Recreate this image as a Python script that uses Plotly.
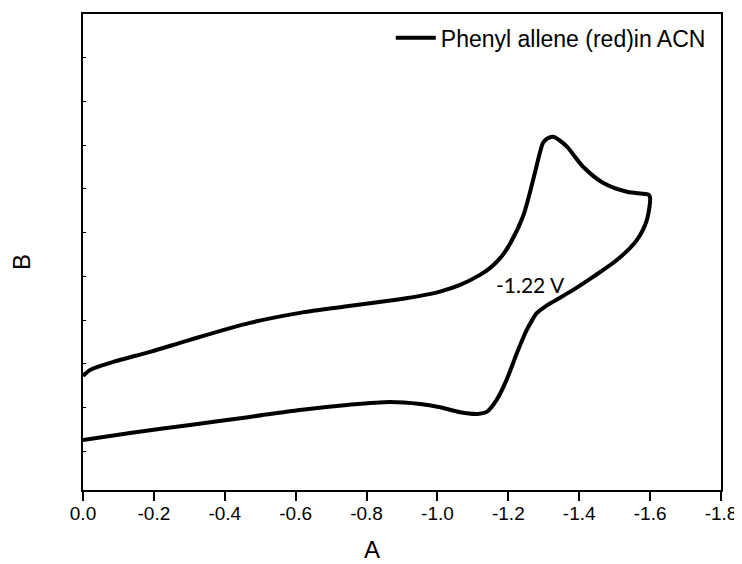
import plotly.graph_objects as go

# Cyclic voltammogram (potential in V, current in arbitrary units)
potential = [0.000, -0.133, -0.302, -0.471, -0.612, -0.745, -0.866, -0.951, -1.007, -1.064,
             -1.112, -1.140, -1.167, -1.195, -1.224, -1.252, -1.266, -1.280, -1.304, -1.327,
             -1.383, -1.439,
             -1.507, -1.563, -1.591, -1.600,
             -1.596, -1.591, -1.535, -1.467, -1.411, -1.366, -1.346, -1.326, -1.309, -1.298,
             -1.289, -1.270, -1.241, -1.200, -1.177, -1.148, -1.120, -1.064, -1.007, -0.951,
             -0.894, -0.745, -0.612, -0.471, -0.302, -0.189, -0.085, -0.020, 0.000]
current = [0.259, 0.419, 0.602, 0.785, 0.945, 1.059, 1.128, 1.082, 1.007, 0.892,
           0.854, 0.906, 1.174, 1.632, 2.243, 2.776, 2.982, 3.158, 3.310, 3.423,
           3.691, 3.989,
           4.378, 4.835, 5.293, 5.796,
           5.865, 5.880, 5.934, 6.140, 6.506, 6.963, 7.101, 7.192, 7.146, 7.055,
           6.826, 6.208, 5.362, 4.680, 4.416, 4.188, 4.034, 3.805, 3.652, 3.554,
           3.478, 3.314, 3.165, 2.936, 2.549, 2.272, 2.043, 1.860, 1.723]

series_name = "Phenyl allene (red)in ACN"
x_tick_values = [0.0, -0.2, -0.4, -0.6, -0.8, -1.0, -1.2, -1.4, -1.6, -1.8]
x_tick_labels = ["0.0", "-0.2", "-0.4", "-0.6", "-0.8", "-1.0", "-1.2", "-1.4", "-1.6", "-1.8"]
annotation_text = "-1.22 V"
annotation_pos = (-1.262, 3.81)
x_title = "A"
y_title = "B"

fig = go.Figure()
fig.add_trace(go.Scatter(
    x=potential, y=current, mode="lines", name=series_name,
    line=dict(color="black", width=4, shape="spline", smoothing=0.8),
    showlegend=True,
))

fig.add_annotation(
    x=annotation_pos[0], y=annotation_pos[1], text=annotation_text,
    showarrow=False, font=dict(family="Lato", size=21, color="black"),
)
fig.add_annotation(
    xref="paper", yref="paper", x=0.453, y=-0.126, text=x_title,
    showarrow=False, xanchor="center", yanchor="middle",
    font=dict(family="Liberation Sans", size=24, color="black"),
)
fig.add_annotation(
    xref="paper", yref="paper", x=-0.0956, y=0.479, text=y_title, textangle=-90,
    showarrow=False, xanchor="center", yanchor="middle",
    font=dict(family="Liberation Sans", size=24, color="black"),
)

# The page body adds an 8px offset, so the figure is 8px smaller on each side
fig.update_layout(
    width=734, height=556,
    margin=dict(l=75, r=21, t=6, b=74, autoexpand=False),
    paper_bgcolor="white", plot_bgcolor="white",
    font=dict(family="Liberation Sans", color="black"),
    showlegend=True,
    legend=dict(
        x=0.984, y=0.995, xanchor="right", yanchor="top",
        bgcolor="rgba(0,0,0,0)", font=dict(size=23, family="Liberation Sans"),
        itemwidth=40,
    ),
    xaxis=dict(
        range=[0, -1.8], tickvals=x_tick_values, ticktext=x_tick_labels,
        ticks="outside", ticklen=9, tickwidth=2, tickcolor="black",
        showline=True, linecolor="black", linewidth=2, mirror=True,
        showgrid=False, zeroline=False, automargin=False,
        ticklabelstandoff=-4,
        tickfont=dict(size=19, family="Liberation Sans"),
    ),
    yaxis=dict(
        range=[-0.886, 10.0], tick0=0, dtick=1,
        ticks="inside", ticklen=3, tickwidth=1, tickcolor="black",
        showticklabels=False,
        showline=True, linecolor="black", linewidth=2, mirror=True,
        showgrid=False, zeroline=False, automargin=False,
    ),
)

fig.write_html("out.html")
